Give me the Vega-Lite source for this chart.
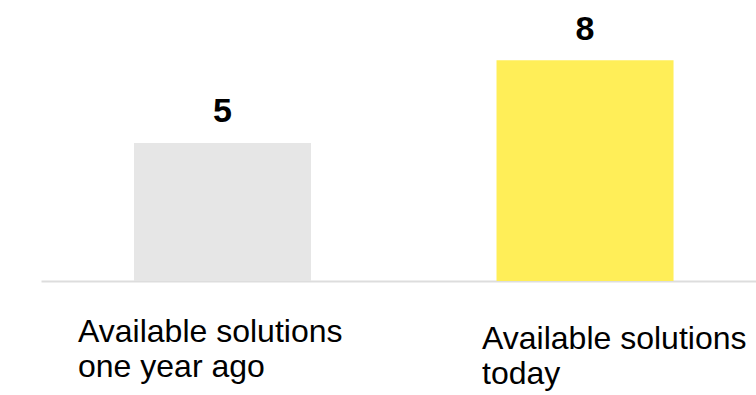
{
  "$schema": "https://vega.github.io/schema/vega-lite/v6.json",
  "width": 715,
  "height": 281,
  "autosize": {"type": "none"},
  "padding": {"left": 41, "top": 0, "right": 0, "bottom": 114},
  "background": "white",
  "config": {"view": {"stroke": null}, "font": "Liberation Sans"},
  "data": {
    "values": [
      {"category": "Available solutions\none year ago", "value": 5},
      {"category": "Available solutions\ntoday", "value": 8}
    ]
  },
  "encoding": {
    "x": {
      "field": "category",
      "type": "nominal",
      "sort": null,
      "scale": {"paddingInner": 0.5117, "paddingOuter": 0.242, "align": 0.53},
      "axis": {
        "title": null,
        "ticks": false,
        "tickSize": 0,
        "domainColor": "#DDDDDD",
        "domainWidth": 2,
        "labelExpr": "split(datum.label, '\\n')",
        "labelAngle": 0,
        "labelAlign": "left",
        "labelBaseline": "alphabetic",
        "labelPadding": {"condition": {"test": "indexof(datum.value, 'ago') >= 0", "value": 60}, "value": 67},
        "labelFontSize": 32,
        "labelLineHeight": 35,
        "labelColor": "#000000",
        "labelFont": "Liberation Sans",
        "labelLimit": 0,
        "labelOffset": {"condition": {"test": "indexof(datum.value, 'ago') >= 0", "value": -144.5}, "value": -103}
      }
    },
    "y": {
      "field": "value",
      "type": "quantitative",
      "scale": {"domain": [0, 10.18], "nice": false, "zero": true},
      "axis": null
    }
  },
  "layer": [
    {
      "mark": {"type": "bar"},
      "encoding": {
        "color": {
          "field": "category",
          "type": "nominal",
          "scale": {"domain": ["Available solutions\none year ago", "Available solutions\ntoday"], "range": ["#E6E6E6", "#FFEE58"]},
          "legend": null
        }
      }
    },
    {
      "mark": {"type": "text", "baseline": "alphabetic", "dy": -20.5, "fontSize": 34, "fontWeight": "bold", "font": "Liberation Sans", "color": "#000000"},
      "encoding": {"text": {"field": "value", "type": "quantitative"}}
    }
  ]
}
